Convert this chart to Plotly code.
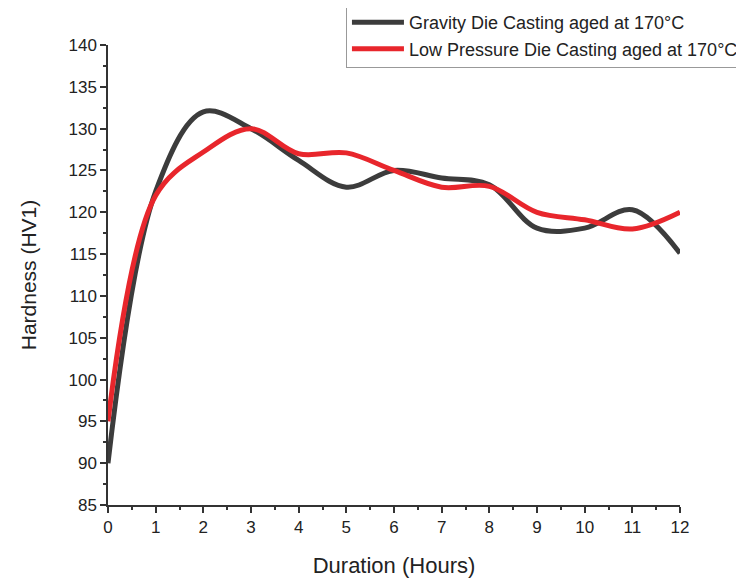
import plotly.graph_objects as go

hours = [0, 1, 2, 3, 4, 5, 6, 7, 8, 9, 10, 11, 12]
gravity = [90, 122.5, 132, 130, 126.2, 123, 125, 124.1, 123.3, 118.1, 118.1, 120.3, 115.1]
low_pressure = [95, 122, 127.2, 130, 127, 127.1, 125, 123, 123.1, 120, 119.1, 118, 120]

fig = go.Figure()
fig.add_trace(go.Scatter(x=hours, y=gravity, mode="lines",
                         line=dict(color="#3c3c3c", width=5, shape="spline", smoothing=1.0),
                         name="Gravity Die Casting aged at 170°C"))
fig.add_trace(go.Scatter(x=hours, y=low_pressure, mode="lines",
                         line=dict(color="#e8262c", width=5, shape="spline", smoothing=1.0),
                         name="Low Pressure Die Casting aged at 170°C"))

font = "Liberation Sans, Arial, sans-serif"
fig.update_layout(
    width=744, height=582,
    margin=dict(l=100, r=72, t=37, b=85, autoexpand=False),
    plot_bgcolor="white", paper_bgcolor="white",
    font=dict(family=font, color="#222"),
    legend=dict(x=0.416, y=1.091, xanchor="left", yanchor="top",
                bordercolor="#999", borderwidth=1, bgcolor="white",
                font=dict(size=18, family=font, color="#222"),
                tracegroupgap=0, itemwidth=52),
    xaxis=dict(range=[0, 12], dtick=1, showgrid=False, zeroline=False,
               showline=True, linecolor="#333", linewidth=1.5,
               ticks="outside", ticklen=6, tickcolor="#333", tickwidth=1.5,
               minor=dict(ticks="outside", ticklen=3, dtick=0.5, tickcolor="#333", showgrid=False),
               tickfont=dict(size=17),
               title=dict(text="Duration (Hours)", font=dict(size=22), standoff=21)),
    yaxis=dict(range=[85, 140], dtick=5, showgrid=False, zeroline=False,
               showline=True, linecolor="#333", linewidth=1.5,
               ticks="outside", ticklen=6, tickcolor="#333", tickwidth=1.5,
               minor=dict(ticks="outside", ticklen=3, dtick=2.5, tickcolor="#333", showgrid=False),
               tickfont=dict(size=17),
               title=dict(text="Hardness (HV1)", font=dict(size=21), standoff=26)),
)
fig.write_html("out.html")
